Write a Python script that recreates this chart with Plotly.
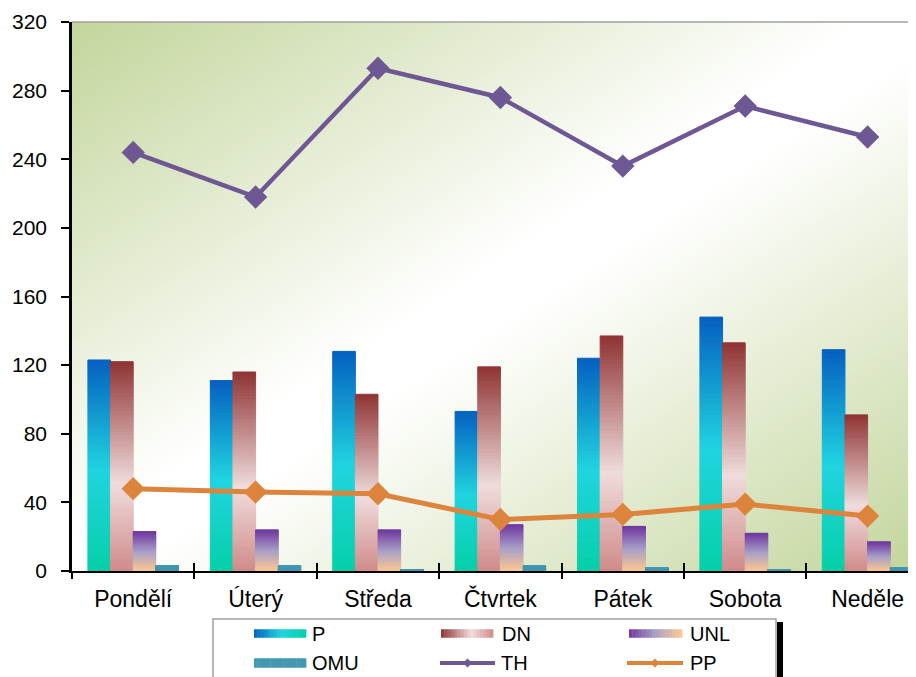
import base64
import plotly.graph_objects as go

# ---------------- data ----------------
days = ["Pondělí", "Úterý", "Středa", "Čtvrtek", "Pátek", "Sobota", "Neděle"]
P = [123, 111, 128, 93, 124, 148, 129]
DN = [122, 116, 103, 119, 137, 133, 91]
UNL = [23, 24, 24, 27, 26, 22, 17]
OMU = [3, 3, 0.6, 3, 2, 0.6, 2]
TH = [244, 218, 293, 276, 236, 271, 253]
PP = [48, 46, 45, 30, 33, 39, 32]
y_ticks = [0, 40, 80, 120, 160, 200, 240, 280, 320]

# ---------------- styles ----------------
P_STOPS = [(0.0, "#05d0a8"), (0.48, "#20d4e0"), (1.0, "#0560c0")]
DN_STOPS = [(0.0, "#d08a8a"), (0.42, "#f0dcdc"), (1.0, "#903434")]
UNL_STOPS = [(0.0, "#ffc890"), (0.5, "#a8a0c8"), (1.0, "#7038a0")]
OMU_STOPS = [(0.0, "#4398b0"), (1.0, "#4398b0")]
TH_COLOR = "#6e5893"
PP_COLOR = "#dc843c"
FONT = "Liberation Sans, Arial, sans-serif"

OFF = 8  # page offset of the figure (body margin)
W, H = 916 - OFF, 677 - OFF
# plot-area edges in page pixels
PL, PR, PT, PB = 72, 916, 22, 571


def hex2rgb(h):
    h = h.lstrip("#")
    return tuple(int(h[i:i + 2], 16) for i in (0, 2, 4))


def interp(stops, t):
    for (p0, c0), (p1, c1) in zip(stops[:-1], stops[1:]):
        if t <= p1 or (p1 == stops[-1][0]):
            f = 0 if p1 == p0 else (t - p0) / (p1 - p0)
            f = min(max(f, 0), 1)
            a, b = hex2rgb(c0), hex2rgb(c1)
            return "rgb(%d,%d,%d)" % tuple(round(a[k] + (b[k] - a[k]) * f) for k in range(3))
    return stops[-1][1]


def px(x):
    return (x - PL) / (PR - PL)


def py(y):
    return (PB - y) / (PB - PT)


fig = go.Figure()

# gradient bars: each bar built as stacked slices of its own value
N = 60
series = [("P", P, P_STOPS), ("DN", DN, DN_STOPS), ("UNL", UNL, UNL_STOPS), ("OMU", OMU, OMU_STOPS)]
for name, vals, stops in series:
    for i in range(N):
        c = interp(stops, (i + 0.5) / N)
        fig.add_trace(go.Bar(
            x=days, y=[v / N for v in vals], base=[v * i / N for v in vals],
            offsetgroup=name, name=name,
            marker=dict(color=c, line=dict(color=c, width=1)),
            showlegend=False, hoverinfo="skip"))

fig.add_trace(go.Scatter(
    x=days, y=TH, mode="lines+markers", name="TH",
    line=dict(color=TH_COLOR, width=4.5),
    marker=dict(symbol="diamond", size=18, color=TH_COLOR), showlegend=False))
fig.add_trace(go.Scatter(
    x=days, y=PP, mode="lines+markers", name="PP",
    line=dict(color=PP_COLOR, width=5),
    marker=dict(symbol="diamond", size=18, color=PP_COLOR), showlegend=False))

# empty helper trace so the overlay axis (inner halves of the category ticks) is drawn
fig.add_trace(go.Scatter(x=[], y=[], xaxis="x2", yaxis="y", showlegend=False, hoverinfo="skip"))

# background gradient image for the plot area
svg = ("<svg xmlns='http://www.w3.org/2000/svg' width='844' height='549' viewBox='0 0 844 549' "
       "preserveAspectRatio='none'><defs><linearGradient id='g' x1='0' y1='0' x2='1' y2='1'>"
       "<stop offset='0' stop-color='#c3d59c'/><stop offset='0.47' stop-color='#ffffff'/>"
       "<stop offset='0.53' stop-color='#ffffff'/><stop offset='1' stop-color='#c3d59c'/>"
       "</linearGradient></defs><rect width='844' height='549' fill='url(#g)'/></svg>")
src = "data:image/svg+xml;base64," + base64.b64encode(svg.encode()).decode()

shapes = []
annotations = []

# top border of plot area
shapes.append(dict(type="line", xref="paper", yref="paper", x0=0, x1=1, y0=1, y1=1,
                   line=dict(color="#a0a0a0", width=1.5)))

# legend box + shadow
shapes.append(dict(type="rect", xref="paper", yref="paper", x0=px(777), x1=px(783), y0=py(622), y1=py(700),
                   fillcolor="black", line=dict(width=0)))
shapes.append(dict(type="rect", xref="paper", yref="paper", x0=px(213), x1=px(776), y0=py(619), y1=py(700),
                   fillcolor="white", line=dict(color="#a0a0a0", width=1.5)))


def grad_key(x0, x1, yc, h, stops):
    n = 16
    w = (x1 - x0) / n
    for i in range(n):
        c = interp(stops, 1 - (i + 0.5) / n)
        shapes.append(dict(type="rect", xref="paper", yref="paper",
                           x0=px(x0 + i * w), x1=px(x0 + (i + 1) * w + 0.4),
                           y0=py(yc + h / 2), y1=py(yc - h / 2),
                           fillcolor=c, line=dict(width=0)))


def line_key(x0, x1, yc, color):
    shapes.append(dict(type="line", xref="paper", yref="paper", x0=px(x0), x1=px(x1),
                       y0=py(yc), y1=py(yc), line=dict(color=color, width=4)))
    xm = (x0 + x1) / 2
    d = 4.5
    path = "M {},{} L {},{} L {},{} L {},{} Z".format(
        px(xm - d), py(yc), px(xm), py(yc - d), px(xm + d), py(yc), px(xm), py(yc + d))
    shapes.append(dict(type="path", xref="paper", yref="paper", path=path,
                       fillcolor=color, line=dict(width=0)))


def key_text(x, yc, text):
    annotations.append(dict(text=text, xref="paper", yref="paper", x=px(x), y=py(yc),
                            xanchor="left", yanchor="middle", showarrow=False,
                            font=dict(family=FONT, size=20, color="black")))


r1, r2 = 633.5, 663
grad_key(254, 306, r1, 8.5, P_STOPS)
key_text(310, r1, "P")
grad_key(441, 493, r1, 8.5, DN_STOPS)
key_text(500, r1, "DN")
grad_key(629, 682, r1, 8.5, UNL_STOPS)
key_text(688, r1, "UNL")
grad_key(254, 306, r2, 9.5, OMU_STOPS)
key_text(310, r2, "OMU")
line_key(440, 495, r2, TH_COLOR)
key_text(499, r2, "TH")
line_key(627, 683, r2, PP_COLOR)
key_text(688, r2, "PP")

cat_px = (805 - 193) / 5.0
x_hi = -0.5 + (PR - PL) / cat_px
boundaries = [i + 0.5 for i in range(len(days) - 1)]

fig.update_layout(
    width=W, height=H,
    margin=dict(l=PL - OFF, r=W - (PR - OFF), t=PT - OFF, b=H - (PB - OFF), pad=0),
    paper_bgcolor="white", plot_bgcolor="rgba(0,0,0,0)",
    barmode="group", bargap=0.26, bargroupgap=0,
    showlegend=False,
    font=dict(family=FONT, color="black"),
    images=[dict(source=src, xref="paper", yref="paper", x=0, y=1, sizex=1, sizey=1,
                 xanchor="left", yanchor="top", sizing="stretch", layer="below")],
    shapes=shapes, annotations=annotations,
    xaxis=dict(type="category", range=[-0.5, x_hi], tickson="boundaries",
               ticks="outside", ticklen=6, tickwidth=1.5, tickcolor="black",
               showline=True, linecolor="black", linewidth=2, showgrid=False, zeroline=False,
               ticklabelstandoff=6,
               tickfont=dict(family=FONT, size=23, color="black")),
    xaxis2=dict(type="linear", overlaying="x", anchor="y", side="bottom",
                range=[-0.5, x_hi], tickvals=boundaries, ticks="inside", ticklen=8,
                tickwidth=1.5, tickcolor="black", showticklabels=False,
                showline=False, showgrid=False, zeroline=False),
    yaxis=dict(range=[0, 320], tickvals=y_ticks, ticktext=[str(v) for v in y_ticks],
               ticks="outside", ticklen=8, tickwidth=1.5, tickcolor="black",
               showline=True, linecolor="black", linewidth=2.5, showgrid=False, zeroline=False,
               ticklabelstandoff=10,
               tickfont=dict(family=FONT, size=21, color="black")),
)

fig.write_html("out.html")
